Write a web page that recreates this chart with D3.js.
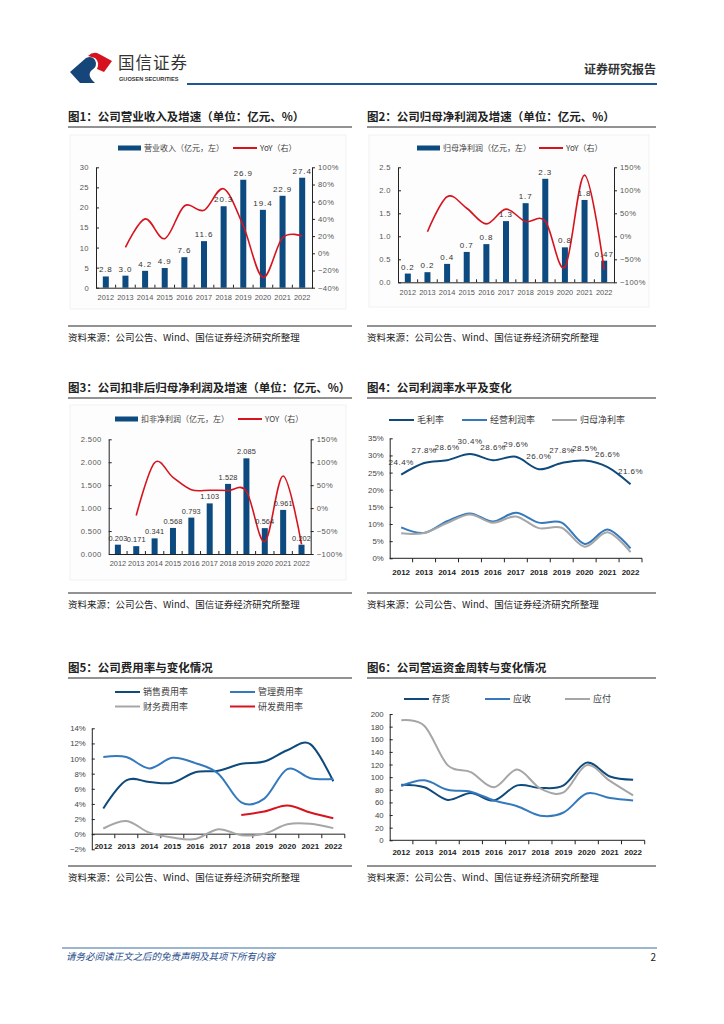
<!DOCTYPE html>
<html>
<head>
<meta charset="utf-8">
<script src="https://cdn.jsdelivr.net/npm/d3@7"></script>
<style>
  body { margin: 0; background: #fff; }
  svg { display: block; font-family: "Noto Sans CJK SC", "Noto Sans", sans-serif; }
</style>
</head>
<body>
<svg id="page" width="724" height="1024"></svg>
<script>
// ---- data ----
const years = ["2012", "2013", "2014", "2015", "2016", "2017", "2018", "2019", "2020", "2021", "2022"];

// 图1 营业收入
const revenue = [2.8, 3.0, 4.2, 4.9, 7.6, 11.6, 20.3, 26.9, 19.4, 22.9, 27.4];
const revenueYoy = [null, 0.07, 0.40, 0.17, 0.55, 0.50, 0.75, 0.32, -0.28, 0.18, 0.20];

// 图2 归母净利润
const netProfit = [0.19, 0.22, 0.40, 0.66, 0.83, 1.33, 1.72, 2.25, 0.76, 1.79, 0.47];
const netProfitLabels = ["0.2", "0.2", "0.4", "0.7", "0.8", "1.3", "1.7", "2.3", "0.8", "1.8", "0.47"];
const netProfitYoy = [null, 0.10, 0.86, 0.61, 0.27, 0.59, 0.32, 0.33, -0.67, 1.33, -0.73];

// 图3 扣非净利润
const deductedProfit = [0.203, 0.171, 0.341, 0.568, 0.793, 1.103, 1.528, 2.085, 0.564, 0.961, 0.202];
const deductedYoy = [null, -0.16, 0.99, 0.67, 0.40, 0.39, 0.385, 0.365, -0.73, 0.70, -0.79];

// 图4 利润率
const grossMargin = [0.244, 0.278, 0.286, 0.304, 0.286, 0.296, 0.260, 0.278, 0.285, 0.266, 0.216];
const opMargin = [0.090, 0.074, 0.108, 0.131, 0.107, 0.133, 0.104, 0.104, 0.042, 0.084, 0.029];
const netMargin = [0.073, 0.074, 0.103, 0.128, 0.104, 0.122, 0.088, 0.089, 0.034, 0.076, 0.018];

// 图5 费用率
const salesRate = [0.034, 0.071, 0.069, 0.068, 0.082, 0.084, 0.093, 0.096, 0.111, 0.119, 0.070];
const adminRate = [0.102, 0.102, 0.087, 0.101, 0.094, 0.080, 0.042, 0.047, 0.086, 0.074, 0.073];
const financeRate = [0.0075, 0.0175, 0.002, -0.0045, -0.0065, 0.0066, -0.0013, 0.0005, 0.013, 0.0137, 0.008];
const rdRate = [null, null, null, null, null, null, 0.0255, 0.030, 0.038, 0.0286, 0.021];

// 图6 营运资金周转天数
const inventoryDays = [88, 84, 64, 75, 63, 87, 83, 87, 123, 101, 96];
const receivableDays = [86, 95, 80, 77, 63, 54, 39, 44, 74, 67, 63];
const payableDays = [190, 181, 119, 108, 84, 112, 82, 76, 119, 94, 71];

const C = {
  bar: "#0d4a7f",
  red: "#d7141e",
  dark: "#0f4a7c",
  mid: "#3579bd",
  gray: "#a6a6a6",
  text: "#404040"
};
const NUM = "Liberation Sans, Arial, sans-serif";

const svg = d3.select("#page");
const curve = d3.curveCatmullRom.alpha(0);

// ---- header ----
const logo = svg.append("g");
logo.append("path")
  .attr("d", "M70,72 L86,58 Q92,55 95,60 Q98,66 92,70 Q86,75 95,83 L80,83 Z")
  .attr("fill", "#16457a");
logo.append("path")
  .attr("d", "M88,56 Q92,52 97,53 L101,55 L112,61 L104,72 L97,69 Q100,62 95,58 Z")
  .attr("fill", "#d6121f");
svg.append("text").attr("x", 118).attr("y", 69)
  .attr("font-size", 16.5).attr("fill", "#333").attr("letter-spacing", 1).text("国信证券");
svg.append("text").attr("x", 119).attr("y", 81)
  .attr("font-size", 5.6).attr("font-weight", "bold").attr("fill", "#333")
  .attr("font-family", NUM).text("GUOSEN SECURITIES");
svg.append("line").attr("x1", 187).attr("x2", 657).attr("y1", 84).attr("y2", 84)
  .attr("stroke", "#1d5794").attr("stroke-width", 2);
svg.append("text").attr("x", 656).attr("y", 74).attr("text-anchor", "end")
  .attr("font-size", 12).attr("font-weight", "bold").attr("fill", "#333").text("证券研究报告");

// ---- footer ----
svg.append("line").attr("x1", 62).attr("x2", 657).attr("y1", 948).attr("y2", 948)
  .attr("stroke", "#3b6fa0").attr("stroke-width", 1);
svg.append("text").attr("x", 66).attr("y", 960).attr("font-size", 9.5)
  .attr("font-style", "italic").attr("fill", "#1f4e8c").text("请务必阅读正文之后的免责声明及其项下所有内容");
svg.append("text").attr("x", 656).attr("y", 961).attr("text-anchor", "end")
  .attr("font-size", 10).attr("fill", "#222").text("2");

// ---- panel frame: title, underline, source ----
function frame(x0, x1, titleY, title, srcLineY) {
  svg.append("text").attr("x", x0).attr("y", titleY).attr("font-size", 11.5)
    .attr("font-weight", "bold").attr("fill", "#222").text(title);
  svg.append("line").attr("x1", x0).attr("x2", x1).attr("y1", titleY + 6).attr("y2", titleY + 6)
    .attr("stroke", "#6e6e6e").attr("stroke-width", 1.5);
  svg.append("line").attr("x1", x0).attr("x2", x1).attr("y1", srcLineY).attr("y2", srcLineY)
    .attr("stroke", "#6e6e6e").attr("stroke-width", 1.5);
  svg.append("text").attr("x", x0).attr("y", srcLineY + 15).attr("font-size", 9.5)
    .attr("fill", "#222").text("资料来源：公司公告、Wind、国信证券经济研究所整理");
}

function legendBar(g, x, y, label) {
  g.append("rect").attr("x", x).attr("y", y - 2.5).attr("width", 23).attr("height", 5).attr("fill", C.bar);
  g.append("text").attr("x", x + 26).attr("y", y + 3).attr("font-size", 8).attr("fill", C.text).text(label);
}
function legendLine(g, x, y, color, label, w, fs) {
  g.append("line").attr("x1", x).attr("x2", x + (w || 24)).attr("y1", y).attr("y2", y)
    .attr("stroke", color).attr("stroke-width", 2);
  g.append("text").attr("x", x + (w || 24) + 3).attr("y", y + 3).attr("font-size", fs || 8)
    .attr("fill", C.text).text(label);
}

// ---- combo bar + yoy line chart ----
function comboChart(o) {
  const g = svg.append("g");
  g.append("rect").attr("x", o.box[0]).attr("y", o.box[1]).attr("width", o.box[2]).attr("height", o.box[3])
    .attr("fill", "#fdfdfd").attr("stroke", "#f1f1f1");
  const x = d3.scaleBand().domain(years).range(o.xr);
  const yL = d3.scaleLinear().domain(o.left).range(o.yr);
  const yR = d3.scaleLinear().domain(o.right).range(o.yr);

  g.selectAll(".bar").data(o.bars).join("rect")
    .attr("x", (d, i) => x(years[i]) + x.bandwidth() / 2 - 3)
    .attr("y", d => yL(d)).attr("width", 6).attr("height", d => yL(0) - yL(d))
    .attr("fill", C.bar);

  // axes
  const axL = d3.axisLeft(yL).tickValues(d3.range(o.left[0], o.left[1] + 1e-9, o.leftStep))
    .tickFormat(d3.format(o.leftFmt)).tickSizeInner(-3).tickSizeOuter(0).tickPadding(7);
  const axR = d3.axisRight(yR).tickValues(d3.range(o.right[0], o.right[1] + 1e-9, o.rightStep))
    .tickFormat(d3.format(".0%")).tickSizeInner(3).tickSizeOuter(0).tickPadding(3);
  const axB = d3.axisBottom(x).tickSize(0).tickPadding(7);
  [[axL, o.xr[0], 0], [axR, o.xr[1], 0]].forEach(([ax, tx]) => {
    const a = g.append("g").attr("transform", `translate(${tx},0)`).call(ax);
    a.select(".domain").attr("stroke", "#222");
    a.selectAll(".tick line").attr("stroke", "#222");
    a.selectAll("text").attr("font-size", 7.6).attr("fill", "#555").attr("font-family", NUM)
      .attr("letter-spacing", 0.4);
  });
  const b = g.append("g").attr("transform", `translate(0,${o.yr[0]})`).call(axB);
  b.select(".domain").attr("stroke", "#222");
  b.selectAll("text").attr("font-size", 7.4).attr("fill", "#555").attr("font-family", NUM);
  // category separator ticks
  g.selectAll(".sep").data(years.slice(1)).join("line")
    .attr("x1", d => x(d)).attr("x2", d => x(d))
    .attr("y1", o.yr[0]).attr("y2", o.yr[0] - 3).attr("stroke", "#222");

  // yoy line
  const line = d3.line().defined(d => d != null)
    .x((d, i) => x(years[i]) + x.bandwidth() / 2).y(d => yR(d)).curve(curve);
  g.append("path").datum(o.yoy).attr("d", line).attr("fill", "none")
    .attr("stroke", C.red).attr("stroke-width", 1.6);

  // bar labels
  g.selectAll(".lbl").data(o.bars).join("text")
    .attr("x", (d, i) => x(years[i]) + x.bandwidth() / 2)
    .attr("y", d => yL(d) - 4).attr("text-anchor", "middle")
    .attr("font-size", o.labelSize || 8).attr("fill", "#333").attr("letter-spacing", o.labelSpacing != null ? o.labelSpacing : 0.9)
    .attr("font-family", NUM)
    .text((d, i) => o.labels[i]);

  legendBar(g, o.legend[0], o.legend[1], o.barName);
  legendLine(g, o.legend[2], o.legend[1], C.red, o.lineName, 24, 8);
}

// ---- line chart ----
function lineChart(o) {
  const g = svg.append("g");
  const x = d3.scaleBand().domain(years).range(o.xr);
  const y = d3.scaleLinear().domain(o.domain).range(o.yr);
  const axL = d3.axisLeft(y).tickValues(d3.range(o.domain[0], o.domain[1] + 1e-9, o.step))
    .tickFormat(o.fmt).tickSizeInner(-3).tickSizeOuter(0).tickPadding(6);
  const a = g.append("g").attr("transform", `translate(${o.xr[0]},0)`).call(axL);
  a.select(".domain").attr("stroke", "#222");
  a.selectAll(".tick line").attr("stroke", "#222");
  a.selectAll("text").attr("font-size", 7.8).attr("fill", "#444").attr("font-family", NUM);

  const y0 = y(o.baseline);
  g.append("line").attr("x1", o.xr[0]).attr("x2", o.xr[1]).attr("y1", y0).attr("y2", y0).attr("stroke", "#222");
  g.selectAll(".sep").data(years.slice(1).concat(["end"])).join("line")
    .attr("x1", d => d === "end" ? o.xr[1] : x(d)).attr("x2", d => d === "end" ? o.xr[1] : x(d))
    .attr("y1", y0).attr("y2", y0 + 4).attr("stroke", "#222");
  g.selectAll(".xl").data(years).join("text")
    .attr("x", d => x(d) + x.bandwidth() / 2).attr("y", o.xLabelY).attr("text-anchor", "middle")
    .attr("font-size", 8).attr("font-weight", "bold").attr("fill", "#222")
    .attr("font-family", NUM).text(d => d);

  const line = d3.line().defined(d => d != null)
    .x((d, i) => x(years[i]) + x.bandwidth() / 2).y(d => y(d)).curve(curve);
  o.series.forEach(s => {
    g.append("path").datum(s.values).attr("d", line).attr("fill", "none")
      .attr("stroke", s.color).attr("stroke-width", 2);
  });
  if (o.pointLabels) {
    g.selectAll(".pl").data(o.pointLabels).join("text")
      .attr("x", (d, i) => x(years[i]) + x.bandwidth() / 2).attr("y", d => y(d) - 10)
      .attr("text-anchor", "middle").attr("font-size", 8).attr("fill", "#333")
      .attr("letter-spacing", 0.5).attr("font-family", NUM)
      .text(d => d3.format(".1f")(d * 100) + "%");
  }
  o.series.forEach(s => legendLine(g, s.lx, s.ly, s.color, s.name, 25, 9));
}

// ---- panels ----
frame(68, 352, 121, "图1：公司营业收入及增速（单位：亿元、%）", 326);
frame(367, 656, 121, "图2：公司归母净利润及增速（单位：亿元、%）", 326);
frame(68, 352, 392, "图3：公司扣非后归母净利润及增速（单位：亿元、%）", 593);
frame(367, 656, 392, "图4：公司利润率水平及变化", 593);
frame(68, 352, 672, "图5：公司费用率与变化情况", 866);
frame(367, 656, 672, "图6：公司营运资金周转与变化情况", 866);

comboChart({
  box: [70, 135, 276, 174], xr: [96, 312], yr: [287.7, 167.3],
  left: [0, 30], leftStep: 5, leftFmt: "d", right: [-0.4, 1.0], rightStep: 0.2,
  bars: revenue, labels: revenue.map(d3.format(".1f")), yoy: revenueYoy,
  barName: "营业收入（亿元，左）", lineName: "YoY（右）", legend: [118, 148, 233]
});
comboChart({
  box: [369, 135, 280, 172], xr: [398, 614], yr: [282.3, 167.3],
  left: [0, 2.5], leftStep: 0.5, leftFmt: ".1f", right: [-1, 1.5], rightStep: 0.5,
  bars: netProfit, labels: netProfitLabels, yoy: netProfitYoy,
  barName: "归母净利润（亿元，左）", lineName: "YoY（右）", legend: [417, 148, 539]
});
comboChart({
  box: [70, 405, 276, 175], xr: [108.7, 310.7], yr: [554, 439.3],
  left: [0, 2.5], leftStep: 0.5, leftFmt: ".3f", right: [-1, 1.5], rightStep: 0.5,
  bars: deductedProfit, labels: deductedProfit.map(d3.format(".3f")), yoy: deductedYoy,
  labelSize: 7.4, labelSpacing: 0.1,
  barName: "扣非净利润（亿元，左）", lineName: "YOY（右）", legend: [115, 419, 238]
});
lineChart({
  xr: [389.7, 642], yr: [558.3, 438.3], domain: [0, 0.35], step: 0.05, baseline: 0,
  fmt: d3.format(".0%"), xLabelY: 574.5, pointLabels: grossMargin,
  series: [
    { name: "毛利率", values: grossMargin, color: C.dark, lx: 389, ly: 420 },
    { name: "经营利润率", values: opMargin, color: C.mid, lx: 462, ly: 420 },
    { name: "归母净利率", values: netMargin, color: C.gray, lx: 552, ly: 420 }
  ]
});
lineChart({
  xr: [91.8, 344.8], yr: [849.3, 728.3], domain: [-0.02, 0.14], step: 0.02, baseline: 0,
  fmt: d3.format(".0%"), xLabelY: 848.5,
  series: [
    { name: "销售费用率", values: salesRate, color: C.dark, lx: 115, ly: 692 },
    { name: "管理费用率", values: adminRate, color: C.mid, lx: 230, ly: 692 },
    { name: "财务费用率", values: financeRate, color: C.gray, lx: 115, ly: 706.5 },
    { name: "研发费用率", values: rdRate, color: C.red, lx: 230, ly: 706.5 }
  ]
});
lineChart({
  xr: [389.7, 644.7], yr: [840.3, 714], domain: [0, 200], step: 20, baseline: 0,
  fmt: d3.format("d"), xLabelY: 855,
  series: [
    { name: "存货", values: inventoryDays, color: C.dark, lx: 404, ly: 699 },
    { name: "应收", values: receivableDays, color: C.mid, lx: 485, ly: 699 },
    { name: "应付", values: payableDays, color: C.gray, lx: 565, ly: 699 }
  ]
});
</script>
</body>
</html>
